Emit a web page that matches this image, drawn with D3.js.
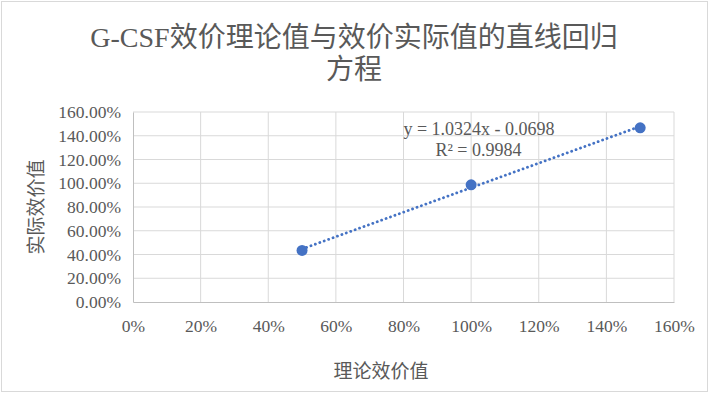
<!DOCTYPE html>
<html><head><meta charset="utf-8">
<script src="https://cdn.jsdelivr.net/npm/d3@7"></script>
<style>body{margin:0;background:#fff}</style>
</head><body>
<svg id="c" width="709" height="393"></svg>
<script>
const theoretical = [0.5, 1.0, 1.5];
const actual = [0.4345, 0.9864, 1.4669];
const trendSlope = 1.0324;
const trendIntercept = -0.0698;
const xTicks = [0,0.2,0.4,0.6,0.8,1.0,1.2,1.4,1.6];
const yTicks = [0,0.2,0.4,0.6,0.8,1.0,1.2,1.4,1.6];
const titleLines = ["G-CSF效价理论值与效价实际值的直线回归","方程"];
const xTitle = "理论效价值", yTitle = "实际效价值";
const eqLines = ["y = 1.0324x - 0.0698", "R² = 0.9984"];

const svg = d3.select("#c");
const font = "'Liberation Serif','Times New Roman','Noto Sans CJK SC',serif";
const txt = "#595959";
svg.append("rect").attr("x",1.5).attr("y",1.5).attr("width",706).attr("height",390)
  .attr("fill","#fff").attr("stroke","#d9d9d9");

const x = d3.scaleLinear().domain([0,1.6]).range([133,674]);
const y = d3.scaleLinear().domain([0,1.6]).range([302,112]);

// gridlines
svg.append("g").selectAll("line.v").data(xTicks.slice(1)).join("line")
  .attr("x1",d=>x(d)).attr("x2",d=>x(d)).attr("y1",y(0)).attr("y2",y(1.6))
  .attr("stroke","#d9d9d9").attr("stroke-width",1);
svg.append("g").selectAll("line.h").data(yTicks.slice(1)).join("line")
  .attr("x1",x(0)).attr("x2",x(1.6)).attr("y1",d=>y(d)).attr("y2",d=>y(d))
  .attr("stroke","#d9d9d9").attr("stroke-width",1);
// axes
const xa = svg.append("g").attr("transform",`translate(0,${y(0)})`)
  .call(d3.axisBottom(x).tickValues(xTicks).tickSize(0).tickPadding(18).tickFormat(d3.format(".0%")));
const ya = svg.append("g").attr("transform",`translate(${x(0)},0)`)
  .call(d3.axisLeft(y).tickValues(yTicks).tickSize(0).tickPadding(12).tickFormat(d3.format(".2%")));
[xa,ya].forEach(a=>{
  a.select(".domain").attr("stroke","#bfbfbf");
  a.selectAll("text").attr("fill",txt).style("font-family",font).style("font-size","17.5px");
});

// trendline
const xmin = d3.min(theoretical), xmax = d3.max(theoretical);
svg.append("line")
  .attr("x1",x(xmin)).attr("y1",y(trendSlope*xmin+trendIntercept))
  .attr("x2",x(xmax)).attr("y2",y(trendSlope*xmax+trendIntercept))
  .attr("stroke","#4472c4").attr("stroke-width",2.8)
  .attr("stroke-dasharray","0.1,4.6").attr("stroke-linecap","round");

// points
svg.append("g").selectAll("circle").data(theoretical).join("circle")
  .attr("cx",d=>x(d)).attr("cy",(d,i)=>y(actual[i])).attr("r",5.5).attr("fill","#4472c4");

// equation
svg.append("text").attr("x",479).attr("y",135).attr("text-anchor","middle")
  .attr("fill",txt).style("font-family",font).style("font-size","18px").text(eqLines[0]);
svg.append("text").attr("x",478.5).attr("y",156).attr("text-anchor","middle")
  .attr("fill",txt).style("font-family",font).style("font-size","18px").text(eqLines[1]);

// title
svg.append("g").selectAll("text").data(titleLines).join("text")
  .attr("x",354).attr("y",(d,i)=>47+i*32).attr("text-anchor","middle")
  .attr("fill",txt).style("font-family",font).style("font-size","28px").text(d=>d);

// axis titles
svg.append("text").attr("x",381).attr("y",378).attr("text-anchor","middle")
  .attr("fill",txt).style("font-family",font).style("font-size","19px").text(xTitle);
svg.append("text").attr("transform","translate(43,207) rotate(-90)").attr("text-anchor","middle")
  .attr("fill",txt).style("font-family",font).style("font-size","19px").text(yTitle);
</script>
</body></html>
